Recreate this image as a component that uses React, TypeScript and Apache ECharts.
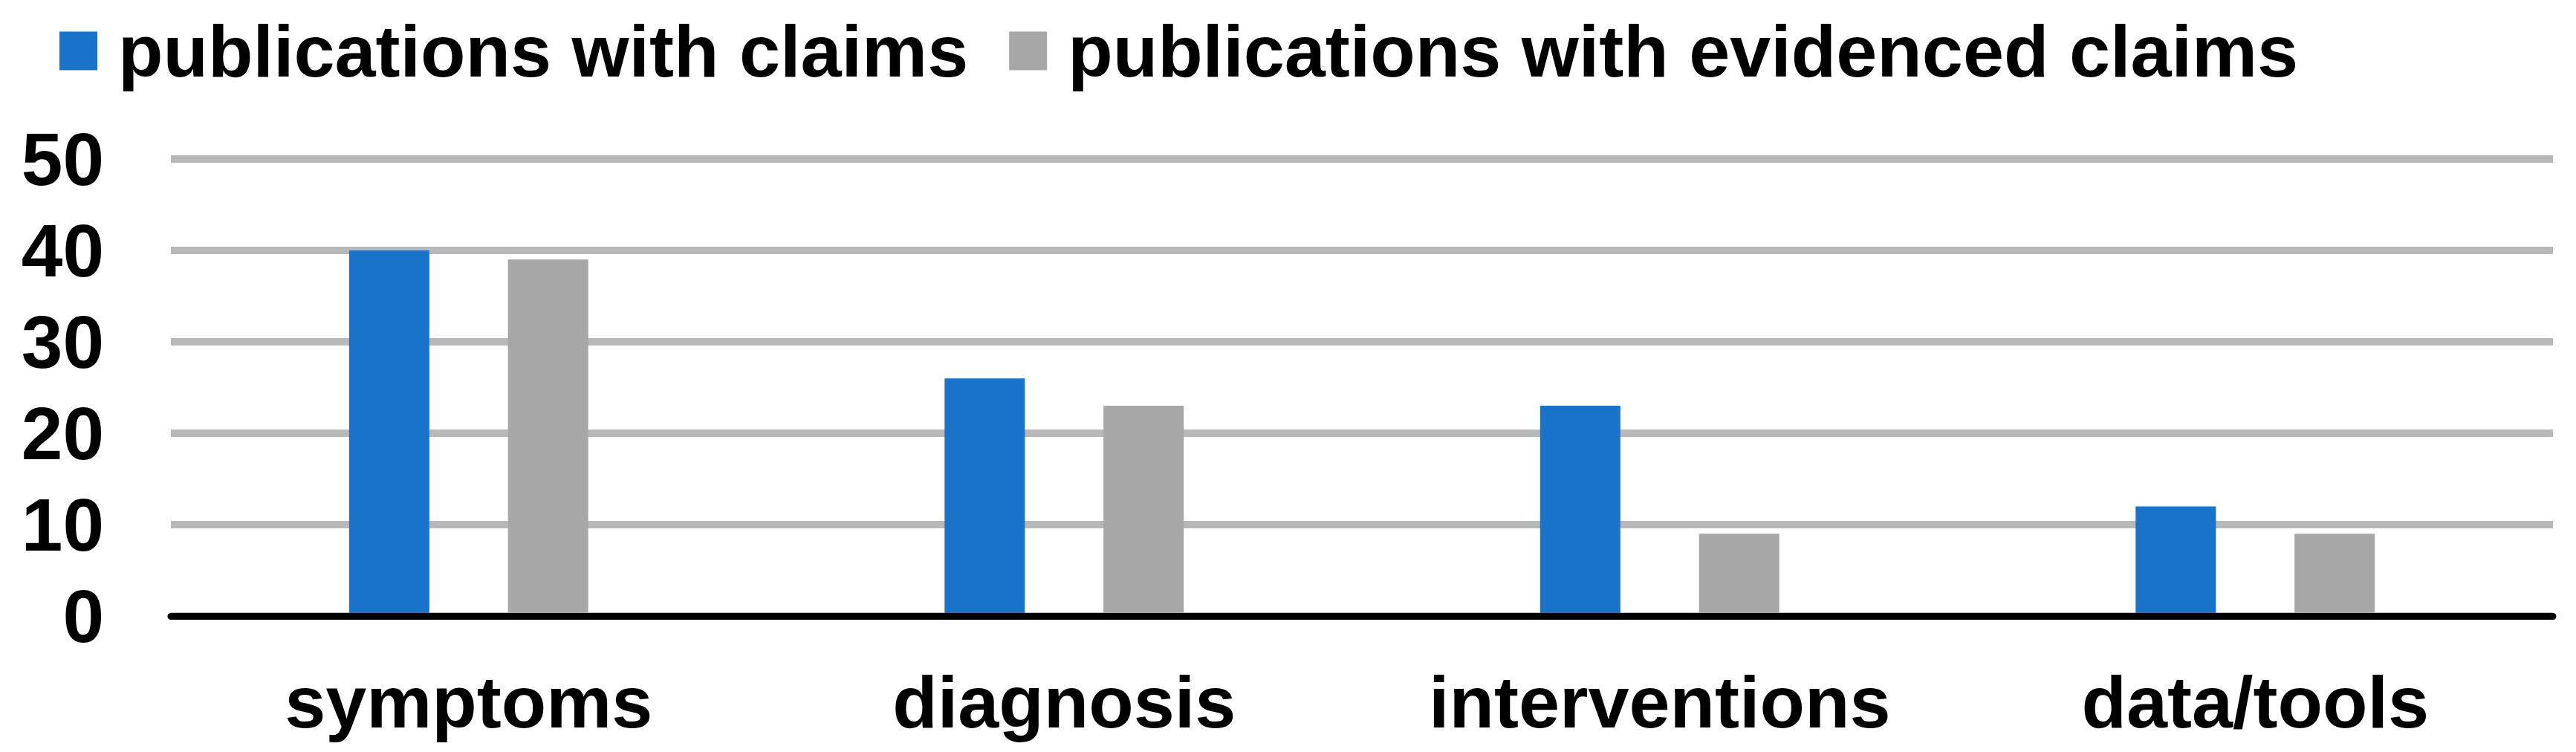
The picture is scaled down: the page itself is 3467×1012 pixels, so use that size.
import React, { useEffect, useRef } from "react";
import * as echarts from "echarts";

const categories = ["symptoms", "diagnosis", "interventions", "data/tools"];
const seriesNames = ["publications with claims", "publications with evidenced claims"];
const claims = [40, 26, 23, 12];
const evidenced = [39, 23, 9, 9];
const yTicks = { min: 0, max: 50, interval: 10 };

const FONT = "'Liberation Sans', Arial, sans-serif";

export default function App() {
  const ref = useRef<HTMLDivElement>(null);
  useEffect(() => {
    document.body.style.margin = "0";
    const chart = echarts.init(ref.current!, null, { renderer: "svg" });
    chart.setOption({
      animation: false,
      backgroundColor: "#ffffff",
      textStyle: { fontFamily: FONT },
      legend: {
        left: 75,
        top: 14,
        itemWidth: 51,
        itemHeight: 52,
        itemGap: 55,
        icon: "rect",
        textStyle: {
          fontFamily: FONT,
          fontWeight: "bold",
          fontSize: 99,
          color: "#000",
          padding: [0, 0, 0, 23],
        },
        data: seriesNames,
      },
      grid: { left: 230, right: 31, top: 214, bottom: 1012 - 829, containLabel: false },
      xAxis: {
        type: "category",
        data: categories,
        axisLine: { show: true, lineStyle: { color: "#000", width: 9 } },
        axisTick: { show: false },
        axisLabel: {
          interval: 0,
          margin: 66,
          fontFamily: FONT,
          fontWeight: "bold",
          fontSize: 99,
          color: "#000",
        },
        z: 3,
      },
      yAxis: {
        type: "value",
        min: yTicks.min,
        max: yTicks.max,
        interval: yTicks.interval,
        axisLine: { show: false },
        axisTick: { show: false },
        splitLine: { show: true, lineStyle: { color: "#b8b8b8", width: 10 } },
        axisLabel: {
          margin: 90,
          fontFamily: FONT,
          fontWeight: "bold",
          fontSize: 100,
          color: "#000",
        },
      },
      series: [
        {
          name: seriesNames[0],
          type: "bar",
          data: claims,
          barWidth: 108,
          barGap: "98%",
          itemStyle: { color: "#1873c9" },
        },
        {
          name: seriesNames[1],
          type: "bar",
          data: evidenced,
          barWidth: 108,
          itemStyle: { color: "#a7a7a7" },
        },
      ],
    });
    return () => chart.dispose();
  }, []);
  return <div ref={ref} style={{ width: 3467, height: 1012 }} />;
}
